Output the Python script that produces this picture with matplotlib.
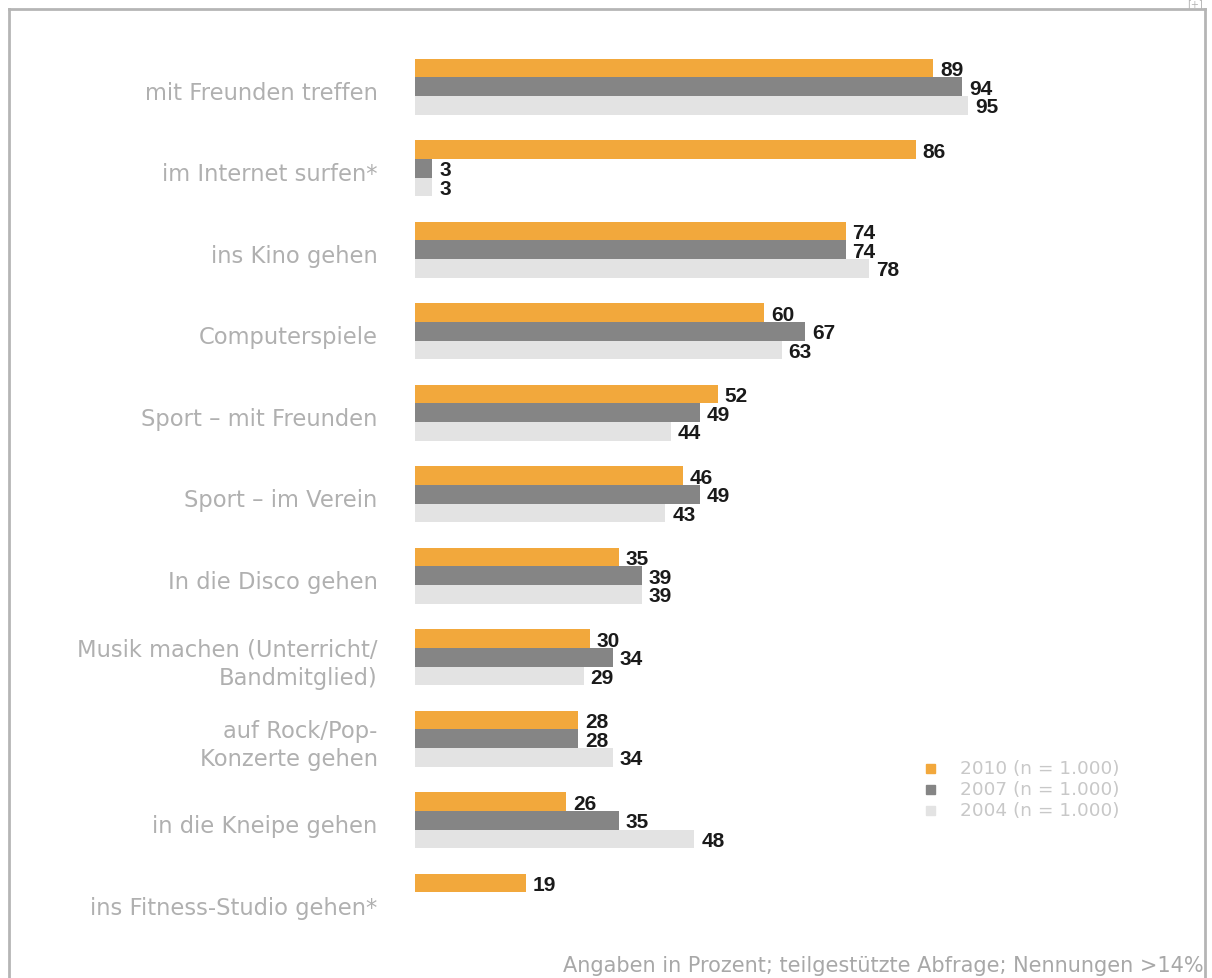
import numpy as np
import matplotlib.pyplot as plt
from matplotlib.patches import Rectangle

# Freizeitaktivitaeten, Angaben in Prozent
categories = ['mit Freunden treffen', 'im Internet surfen*', 'ins Kino gehen',
              'Computerspiele', 'Sport – mit Freunden', 'Sport – im Verein',
              'In die Disco gehen', 'Musik machen (Unterricht/\nBandmitglied)',
              'auf Rock/Pop-\nKonzerte gehen', 'in die Kneipe gehen',
              'ins Fitness-Studio gehen*']
values_2010 = [89, 86, 74, 60, 52, 46, 35, 30, 28, 26, 19]
values_2007 = [94, 3, 74, 67, 49, 49, 39, 34, 28, 35, None]
values_2004 = [95, 3, 78, 63, 44, 43, 39, 29, 34, 48, None]
series_labels = ['2010 (n = 1.000)', '2007 (n = 1.000)', '2004 (n = 1.000)']
footnote = 'Angaben in Prozent; teilgestützte Abfrage; Nennungen >14%'

colors = ['#f2a83c', '#858585', '#e3e3e3']
plt.rcParams['font.family'] = ['DejaVu Sans']

W, H = 1212, 979
fig = plt.figure(figsize=(W / 100, H / 100), dpi=100)
fig.patch.set_facecolor('white')

# Achse in Pixelkoordinaten platzieren
ax_left, ax_right = 415, 997
ax_top, ax_bottom = 47, 943.5
ax = fig.add_axes([ax_left / W, (H - ax_bottom) / H,
                   (ax_right - ax_left) / W, (ax_bottom - ax_top) / H])
ax.set_xlim(0, 100)
ax.set_ylim(len(categories) - 0.5, -0.5)
ax.axis('off')

h = 0.227
y = np.arange(len(categories))
all_series = [values_2010, values_2007, values_2004]
for k, (vals, col) in enumerate(zip(all_series, colors)):
    off = (k - 1) * h
    for i, v in enumerate(vals):
        if v is None:
            continue
        ax.barh(y[i] + off, v, height=h, color=col, edgecolor='none')
        ax.annotate(str(v), xy=(v, y[i] + off), xytext=(5, -1),
                    textcoords='offset points', va='center', ha='left',
                    fontsize=15, fontweight='bold', color='#1a1a1a',
                    family='Liberation Sans')

# Kategorien links von den Balken
for i, cat in enumerate(categories):
    ax.annotate(cat, xy=(0, y[i]), xytext=(-27, -4), textcoords='offset points',
                va='center', ha='right', fontsize=16.3, color='#b0b0b0',
                linespacing=1.3)

# Legende
for k, (lab, col) in enumerate(zip(series_labels, colors)):
    yy = 1 - (769 + k * 21) / H
    fig.patches.append(Rectangle((926 / W, yy - 4.5 / H), 9 / W, 9 / H,
                                 transform=fig.transFigure, color=col,
                                 figure=fig))
    fig.text(960 / W, yy, lab, fontsize=13.3, color='#c8c8c8', va='center',
             ha='left')

fig.text(1204 / W, 1 - 966 / H, footnote, fontsize=15, color='#a8a8a8',
         ha='right', va='center')

# Rahmen
frame_kw = dict(color='#b5b5b5', lw=2, transform=fig.transFigure)
fig.add_artist(plt.Line2D([9 / W, 9 / W], [0, 1 - 10 / H], **frame_kw))
fig.add_artist(plt.Line2D([9 / W, 1205 / W], [1 - 10 / H, 1 - 10 / H], **frame_kw))
fig.add_artist(plt.Line2D([1205 / W, 1205 / W], [0, 1 - 10 / H], **frame_kw))
fig.text(1203 / W, 1 - 4 / H, '[+]', fontsize=7, color='#b5b5b5',
         ha='right', va='center')

fig.savefig('out.png', dpi=100)
